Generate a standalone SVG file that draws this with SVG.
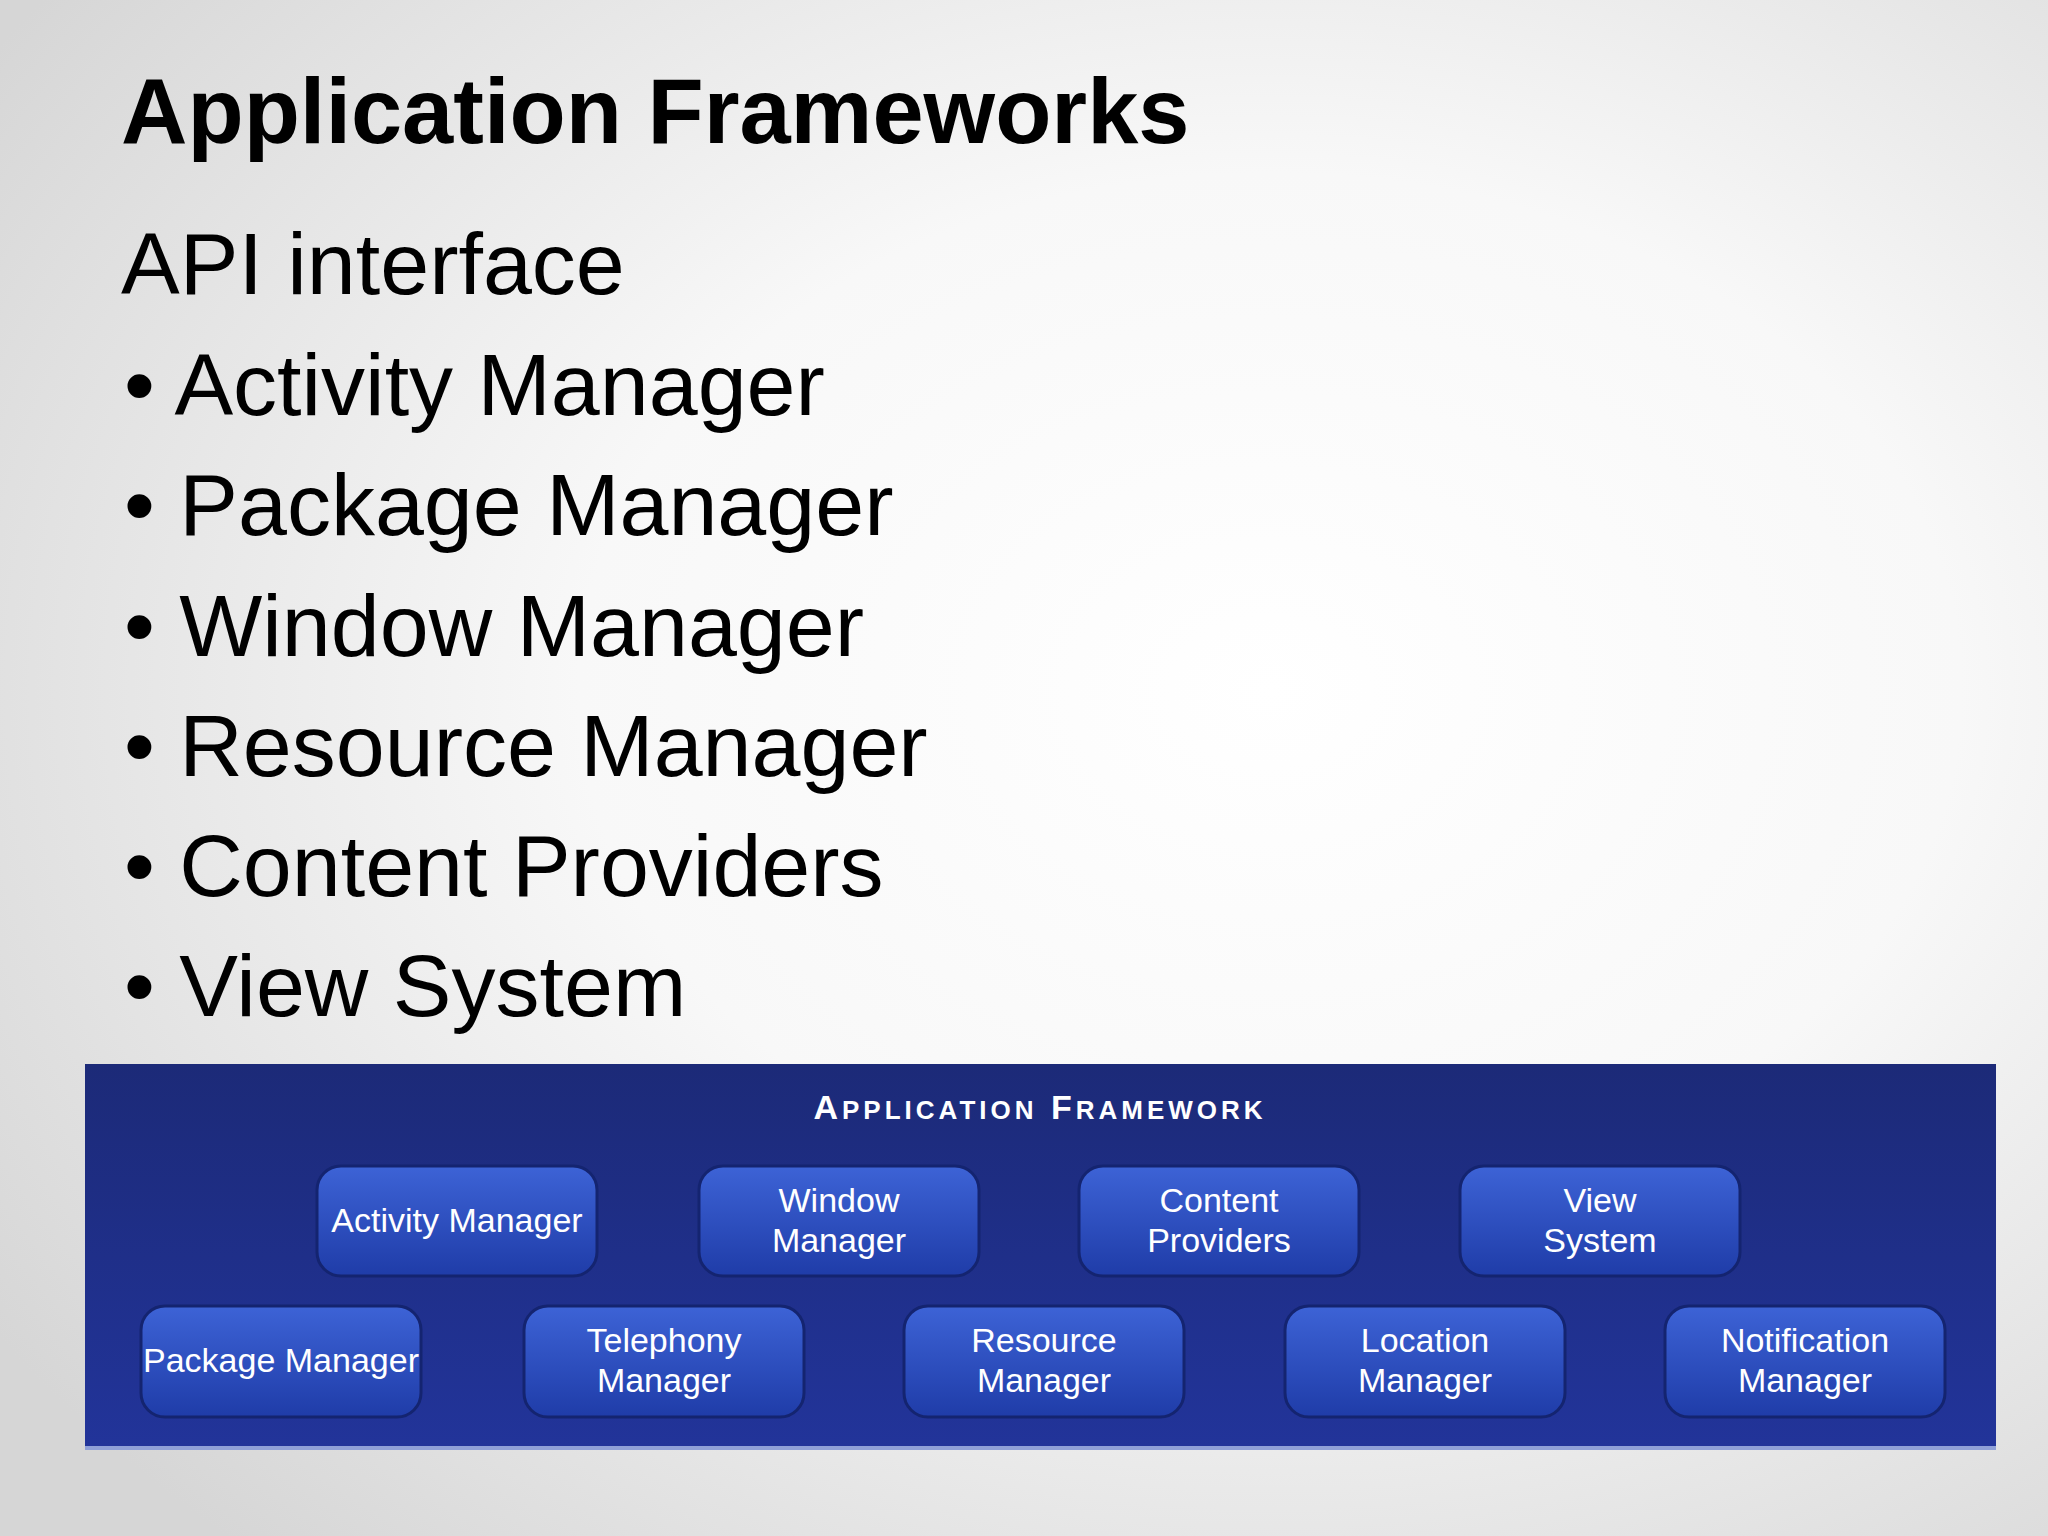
<svg xmlns="http://www.w3.org/2000/svg" width="2048" height="1536" viewBox="0 0 2048 1536">
<defs>
<radialGradient id="bg" cx="0.62" cy="0.45" r="0.75">
<stop offset="0" stop-color="#ffffff"/><stop offset="0.45" stop-color="#f8f8f8"/><stop offset="1" stop-color="#d6d6d6"/>
</radialGradient>
<linearGradient id="ban" x1="0" y1="0" x2="0" y2="1">
<stop offset="0" stop-color="#1c2a78"/><stop offset="1" stop-color="#22349a"/>
</linearGradient>
<linearGradient id="btn" x1="0" y1="0" x2="0" y2="1">
<stop offset="0" stop-color="#3d63d6"/><stop offset="1" stop-color="#1f3ca8"/>
</linearGradient>
</defs>
<style>
.t{font-family:"Liberation Sans",Arial,sans-serif;fill:#000}
.b{font-family:"Liberation Sans",Arial,sans-serif;fill:#fff;font-size:34px;text-anchor:middle}
.btn{fill:url(#btn);stroke:#142470;stroke-width:3}
</style>
<rect width="2048" height="1536" fill="url(#bg)"/>
<text class="t" x="121" y="143" font-size="92" font-weight="bold">Application Frameworks</text>
<text class="t" x="121" y="294" font-size="88">API interface</text>
<g class="t" font-size="88">
<text x="124" y="415">• Activity Manager</text>
<text x="124" y="535">• Package Manager</text>
<text x="124" y="656">• Window Manager</text>
<text x="124" y="776">• Resource Manager</text>
<text x="124" y="896">• Content Providers</text>
<text x="124" y="1016">• View System</text>
</g>
<g id="framework">
<rect x="85" y="1064" width="1911" height="386" fill="url(#ban)"/>
<rect x="85" y="1446" width="1911" height="4" fill="#8fa0d8"/>
<text x="1040" y="1119" font-family="'Liberation Sans',Arial,sans-serif" font-weight="bold" font-size="34" fill="#fff" text-anchor="middle" letter-spacing="4">A<tspan font-size="26">PPLICATION</tspan> F<tspan font-size="26">RAMEWORK</tspan></text>
</g>
<g id="activity"><rect class="btn" x="317" y="1166" width="280" height="110" rx="24"/><text class="b" x="457" y="1232">Activity Manager</text></g>
<g id="window"><rect class="btn" x="699" y="1166" width="280" height="110" rx="24"/><text class="b" x="839" y="1212">Window</text><text class="b" x="839" y="1252">Manager</text></g>
<g id="content"><rect class="btn" x="1079" y="1166" width="280" height="110" rx="24"/><text class="b" x="1219" y="1212">Content</text><text class="b" x="1219" y="1252">Providers</text></g>
<g id="view"><rect class="btn" x="1460" y="1166" width="280" height="110" rx="24"/><text class="b" x="1600" y="1212">View</text><text class="b" x="1600" y="1252">System</text></g>
<g id="package"><rect class="btn" x="141" y="1306" width="280" height="111" rx="24"/><text class="b" x="281" y="1372">Package Manager</text></g>
<g id="telephony"><rect class="btn" x="524" y="1306" width="280" height="111" rx="24"/><text class="b" x="664" y="1352">Telephony</text><text class="b" x="664" y="1392">Manager</text></g>
<g id="resource"><rect class="btn" x="904" y="1306" width="280" height="111" rx="24"/><text class="b" x="1044" y="1352">Resource</text><text class="b" x="1044" y="1392">Manager</text></g>
<g id="location"><rect class="btn" x="1285" y="1306" width="280" height="111" rx="24"/><text class="b" x="1425" y="1352">Location</text><text class="b" x="1425" y="1392">Manager</text></g>
<g id="notification"><rect class="btn" x="1665" y="1306" width="280" height="111" rx="24"/><text class="b" x="1805" y="1352">Notification</text><text class="b" x="1805" y="1392">Manager</text></g>
<g id="connectors"/>
</svg>
